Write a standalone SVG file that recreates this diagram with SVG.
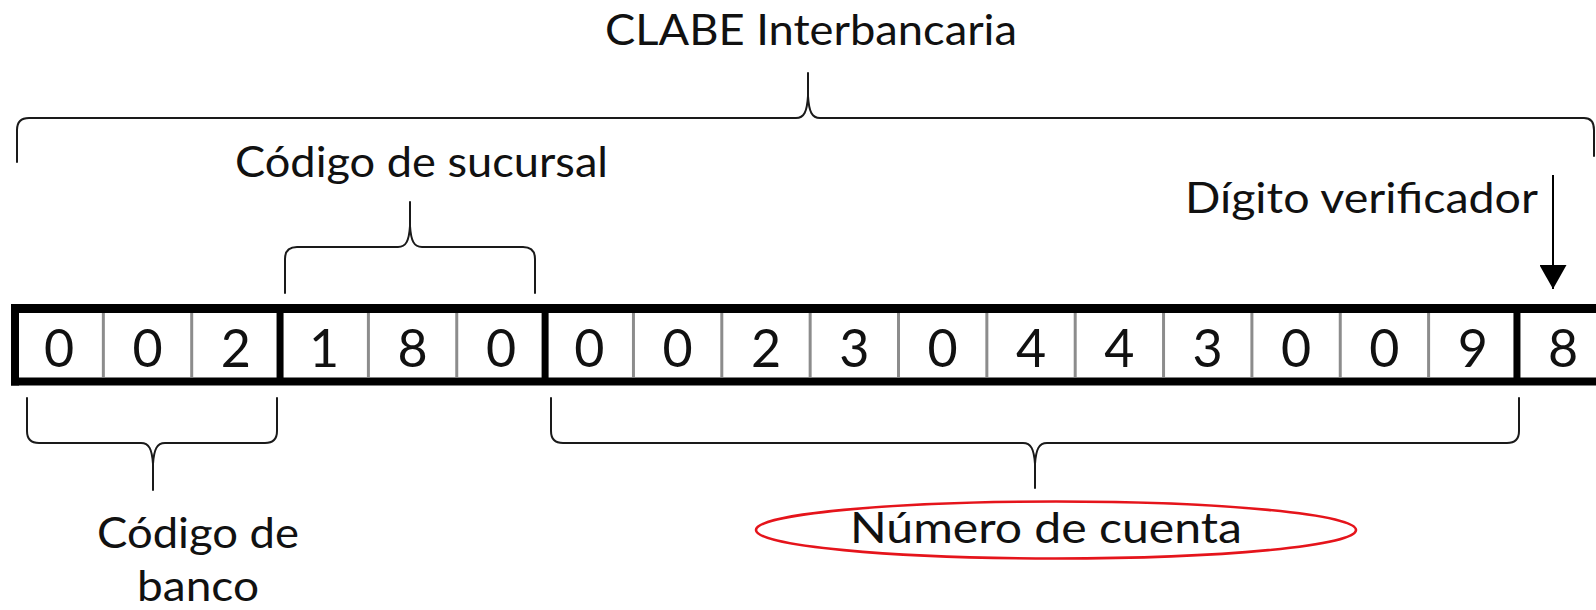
<svg xmlns="http://www.w3.org/2000/svg" width="1596" height="610" viewBox="0 0 1596 610">
  <style>
    .lbl { font-family: Lato, "Open Sans", "Liberation Sans", sans-serif; font-size: 42px; fill: #111; }
    .dig { font-family: Lato, "Open Sans", "Liberation Sans", sans-serif; font-size: 52px; fill: #111; text-anchor: middle; }
    .brace { fill: none; stroke: #1a1a1a; stroke-width: 2; stroke-linejoin: round; stroke-linecap: round; }
    .thick { stroke: #000; stroke-width: 7; }
    .thin { stroke: #8c8c8c; stroke-width: 3; }
  </style>
  <defs>
    <marker id="arrowhead" markerWidth="25" markerHeight="27" refX="24" refY="13.5" orient="auto" markerUnits="userSpaceOnUse" viewBox="0 0 25 27">
      <path d="M0 0 L24 13.5 L0 27 Z" fill="#000"/>
    </marker>
  </defs>
  <rect width="1596" height="610" fill="#fff"/>

  <!-- labels -->
  <g id="title"><text class="lbl" x="605" y="45" textLength="412" lengthAdjust="spacingAndGlyphs">CLABE Interbancaria</text></g>
  <g id="label-sucursal"><text class="lbl" x="235" y="177" textLength="373" lengthAdjust="spacingAndGlyphs">Código de sucursal</text></g>
  <g id="label-digito"><text class="lbl" x="1185" y="213" textLength="353" lengthAdjust="spacingAndGlyphs">Dígito verificador</text></g>
  <g id="label-banco">
    <text class="lbl" x="97" y="548" textLength="202" lengthAdjust="spacingAndGlyphs">Código de</text>
    <text class="lbl" x="137" y="601" textLength="122" lengthAdjust="spacingAndGlyphs">banco</text>
  </g>
  <g id="label-cuenta">
    <ellipse cx="1056" cy="530" rx="300" ry="28.5" fill="none" stroke="#e5141b" stroke-width="2.6"/>
    <text class="lbl" x="850" y="543" textLength="392" lengthAdjust="spacingAndGlyphs">Número de cuenta</text>
  </g>

  <!-- CLABE digit box -->
  <g id="clabe-box">
    <g id="dividers">
      <line class="thin" x1="103.35" y1="313" x2="103.35" y2="377"/>
      <line class="thin" x1="191.7" y1="313" x2="191.7" y2="377"/>
      <line class="thin" x1="368.4" y1="313" x2="368.4" y2="377"/>
      <line class="thin" x1="456.75" y1="313" x2="456.75" y2="377"/>
      <line class="thin" x1="633.45" y1="313" x2="633.45" y2="377"/>
      <line class="thin" x1="721.8" y1="313" x2="721.8" y2="377"/>
      <line class="thin" x1="810.15" y1="313" x2="810.15" y2="377"/>
      <line class="thin" x1="898.5" y1="313" x2="898.5" y2="377"/>
      <line class="thin" x1="986.85" y1="313" x2="986.85" y2="377"/>
      <line class="thin" x1="1075.2" y1="313" x2="1075.2" y2="377"/>
      <line class="thin" x1="1163.55" y1="313" x2="1163.55" y2="377"/>
      <line class="thin" x1="1251.9" y1="313" x2="1251.9" y2="377"/>
      <line class="thin" x1="1340.25" y1="313" x2="1340.25" y2="377"/>
      <line class="thin" x1="1428.6" y1="313" x2="1428.6" y2="377"/>
      <line class="thick" x1="280.05" y1="306" x2="280.05" y2="384"/>
      <line class="thick" x1="545.1" y1="306" x2="545.1" y2="384"/>
      <line class="thick" x1="1516.95" y1="306" x2="1516.95" y2="384"/>
    </g>
    <line x1="11" y1="308.5" x2="1600" y2="308.5" stroke="#000" stroke-width="9"/>
    <line x1="11" y1="381.5" x2="1600" y2="381.5" stroke="#000" stroke-width="8"/>
    <line x1="15" y1="304" x2="15" y2="385.5" stroke="#000" stroke-width="8"/>
    <g id="digits">
      <text class="dig" x="59.2" y="367">0</text>
      <text class="dig" x="147.5" y="367">0</text>
      <text class="dig" x="235.9" y="367">2</text>
      <text class="dig" x="324.2" y="367">1</text>
      <text class="dig" x="412.6" y="367">8</text>
      <text class="dig" x="501" y="367">0</text>
      <text class="dig" x="589.3" y="367">0</text>
      <text class="dig" x="677.6" y="367">0</text>
      <text class="dig" x="766" y="367">2</text>
      <text class="dig" x="854.3" y="367">3</text>
      <text class="dig" x="942.7" y="367">0</text>
      <text class="dig" x="1031" y="367">4</text>
      <text class="dig" x="1119.4" y="367">4</text>
      <text class="dig" x="1207.7" y="367">3</text>
      <text class="dig" x="1296.1" y="367">0</text>
      <text class="dig" x="1384.4" y="367">0</text>
      <text class="dig" x="1472.8" y="367">9</text>
      <text class="dig" x="1563" y="367">8</text>
    </g>
  </g>

  <!-- connectors: braces and arrow -->
  <g id="connectors">
    <path id="brace-clabe" class="brace" d="M17 162 L17 130 Q17 118 29 118 L796 118 C804 118 807 112 808 96 L808 73 M808 96 C809 112 812 118 820 118 L1584 118 Q1594 118 1594 130 L1594 156"/>
    <path id="brace-sucursal" class="brace" d="M285 293 L285 259 Q285 247 297 247 L398 247 C406 247 409 241 410 226 L410 202 M410 226 C411 241 414 247 422 247 L523 247 Q535 247 535 259 L535 293"/>
    <path id="brace-banco" class="brace" d="M27 398 L27 431 Q27 443 39 443 L141 443 C149 443 152 449 153 464 L153 490 M153 464 C154 449 157 443 165 443 L265 443 Q277 443 277 431 L277 398"/>
    <path id="brace-cuenta" class="brace" d="M551 398 L551 431 Q551 443 563 443 L1023 443 C1031 443 1034 449 1035 464 L1035 488 M1035 464 C1036 449 1039 443 1047 443 L1507 443 Q1519 443 1519 431 L1519 398"/>
    <line id="arrow-digito" x1="1553" y1="175" x2="1553" y2="289" stroke="#000" stroke-width="2" marker-end="url(#arrowhead)"/>
  </g>
</svg>
